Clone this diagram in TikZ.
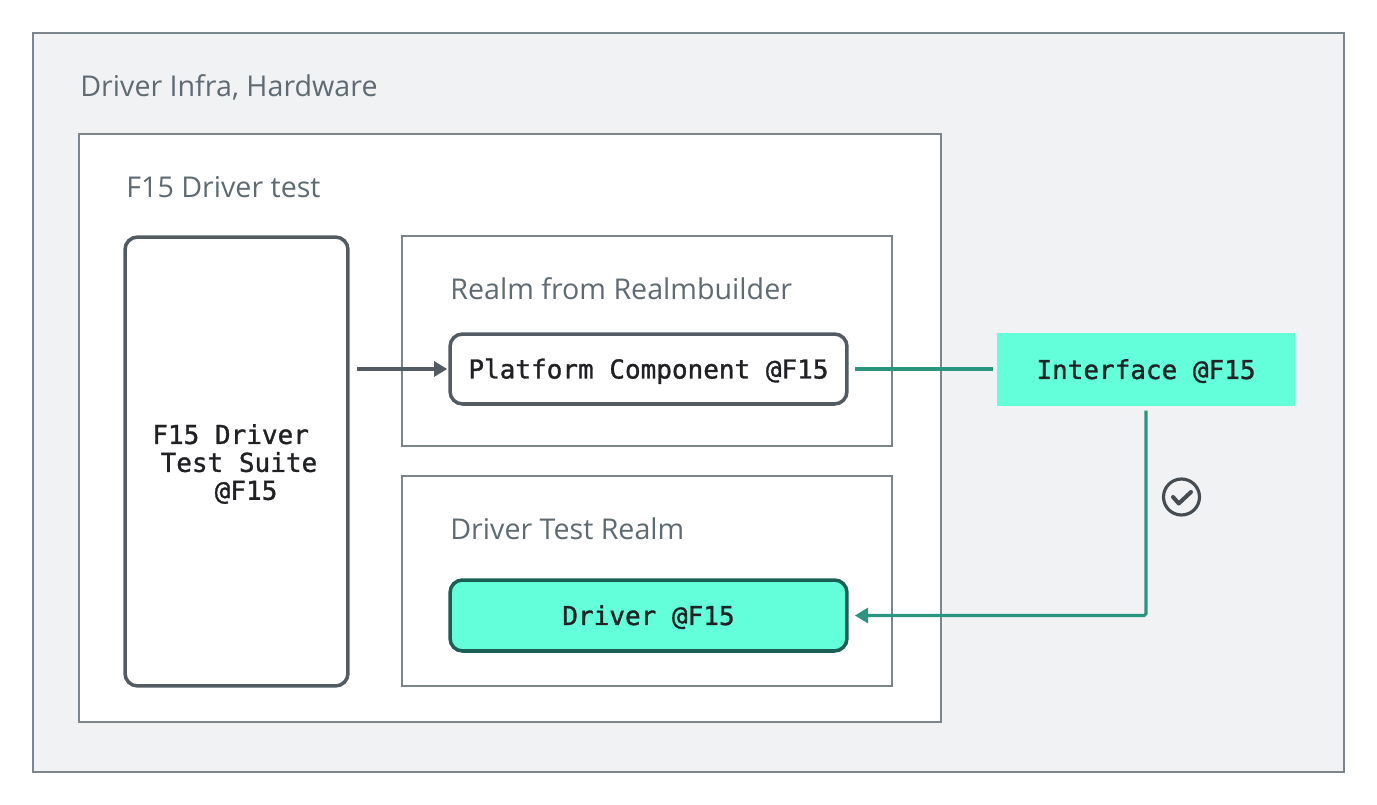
\documentclass[tikz,border=0pt]{standalone}
\usepackage{fontspec}
\setmainfont{Open Sans}
\newfontfamily\codefont[FakeBold=1.2]{DejaVu Sans Mono}
\usetikzlibrary{positioning, arrows.meta}
\definecolor{bgGray}{HTML}{F1F2F4}
\definecolor{lineGray}{HTML}{7B868C}
\definecolor{textGray}{HTML}{5F6B72}
\definecolor{darkGray}{HTML}{525B61}
\definecolor{mint}{HTML}{62FFDA}
\definecolor{teal}{HTML}{2B9580}
\definecolor{darkTeal}{HTML}{1B5E54}
\definecolor{inkDark}{HTML}{202124}

\begin{document}
\begin{tikzpicture}[
    % GLOBAL CFG
    x=0.02cm, y=-0.02cm,
    font=\fontsize{16.3}{19}\selectfont,
    % Styles
    frame/.style={% For the plain outer boxes
        rectangle,
        draw=lineGray,
        line width=1.1pt,
        inner sep=0pt,
    },
    suitebox/.style={% For the test suite and component boxes
        rectangle,
        rounded corners=2.5mm,
        draw=darkGray,
        line width=2pt,
        fill=white,
        inner sep=0pt,
        font=\codefont\fontsize{14.8}{15.9}\selectfont,
        text height=10.8pt,
        text depth=0pt,
        text=inkDark,
    },
    driverbox/.style={% For the driver under test
        suitebox,
        draw=darkTeal,
        fill=mint,
    },
    ifacebox/.style={% For the interface
        rectangle,
        fill=mint,
        inner sep=0pt,
        font=\codefont\fontsize{14.8}{15.9}\selectfont,
        text height=10.8pt,
        text depth=0pt,
        text=inkDark,
    },
    mylabel/.style={
        anchor=base west,
        inner sep=0pt,
        text=textGray,
    },
    ArrowG/.style={% Gray arrow
        draw=darkGray,
        line width=1.8pt,
        -{Triangle[length=7.5pt, width=8.5pt]},
    },
    ArrowT/.style={% Teal connector
        draw=teal,
        line width=1.8pt,
    },
    checkmark/.style={% For the tick sign
        circle,
        draw=darkGray!85!black,
        line width=1.8pt,
        minimum size=0.72cm,
        inner sep=0pt,
    },
    ]
    \useasboundingbox (0,0) rectangle (1377,805);

    % Draw frames
    \node [frame, fill=bgGray, minimum width=26.22cm, minimum height=14.78cm] (infra) at (688.5,402.5) {};
    \node [frame, fill=white, minimum width=17.24cm, minimum height=11.76cm] (test) at (510,428) {};
    \node [frame, fill=white, minimum width=9.8cm, minimum height=4.2cm] (realmb) at (647,341) {};
    \node [frame, fill=white, minimum width=9.8cm, minimum height=4.2cm] (dtrealm) at (647,581) {};

    % Draw frame labels
    \node [mylabel] (infralbl) at (80,96) {Driver Infra, Hardware};
    \node [mylabel] (testlbl) at (126,197) {F15 Driver test};
    \node [mylabel] (realmblbl) at (450,299) {Realm from Realmbuilder};
    \node [mylabel] (dtrealmlbl) at (450,539) {Driver Test Realm};

    % Draw components
    \node [suitebox, minimum width=4.46cm, minimum height=8.98cm] (suite) at (236.5,461.5) {};
    \node [anchor=west, inner sep=0pt, align=left, font=\codefont\fontsize{14.8}{15.9}\selectfont, text=inkDark] (suitetxt) at (152,464)
        {F15 Driver\\\hspace*{0.32em}Test Suite\\\hspace*{2.4em}@F15};
    \node [suitebox, minimum width=7.94cm, minimum height=1.4cm] (platform) at (648.5,369) {Platform Component @F15};
    \node [driverbox, minimum width=7.94cm, minimum height=1.42cm] (driver) at (648.5,615.5) {Driver @F15};
    \node [ifacebox, minimum width=5.96cm, minimum height=1.46cm] (iface) at (1146,369.5) {Interface @F15};

    % Draw tick
    \node [checkmark] (ok) at (1181.5,497) {};
    \draw [draw=darkGray!85!black, line width=2.3pt, line cap=round, line join=round]
        ([xshift=-0.17cm]ok.center) -- ([xshift=-0.055cm, yshift=-0.13cm]ok.center) -- ([xshift=0.19cm, yshift=0.1cm]ok.center);

    % Connectors
    \draw [ArrowG, shorten <=4pt, shorten >=0.6pt] (suite.east |- platform.west) -- (platform.west);
    \draw [ArrowT, shorten <=3.5pt, shorten >=2.3pt] (platform.east) -- (platform.east -| iface.west);
    \draw [ArrowT, -{Triangle[length=7.5pt, width=8.5pt]}, rounded corners=1pt, shorten <=2.5pt, shorten >=3.5pt]
        (iface.south) |- (driver.east);

\end{tikzpicture}
\end{document}
